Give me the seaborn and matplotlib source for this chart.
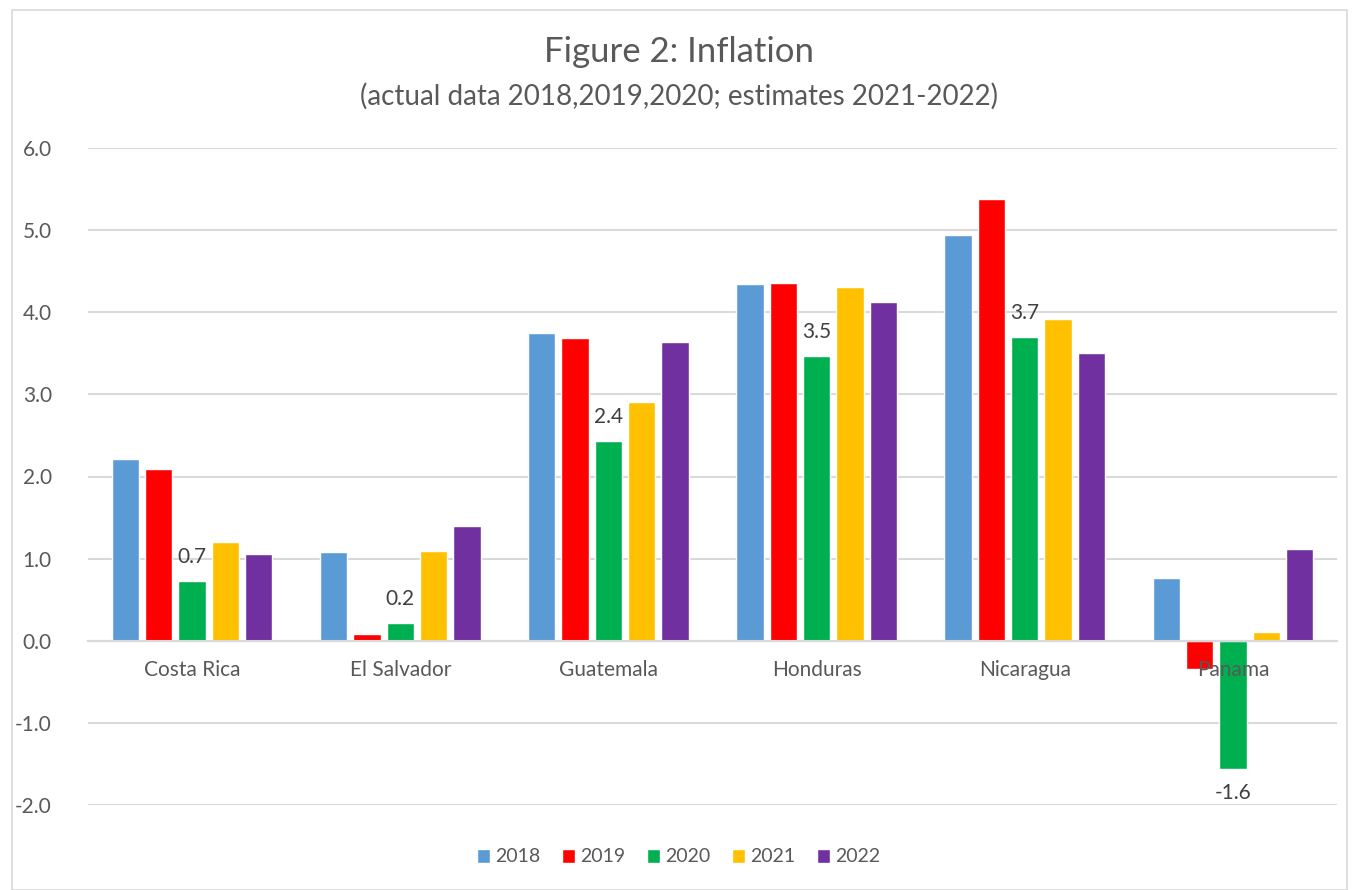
import matplotlib
matplotlib.use("Agg")
import matplotlib.pyplot as plt
import seaborn as sns
import pandas as pd
from matplotlib.patches import Rectangle

countries = ["Costa Rica", "El Salvador", "Guatemala", "Honduras", "Nicaragua", "Panama"]
years = ["2018", "2019", "2020", "2021", "2022"]
v2018 = [2.21, 1.08, 3.75, 4.34, 4.94, 0.77]
v2019 = [2.09, 0.085, 3.69, 4.36, 5.38, -0.35]
v2020 = [0.73, 0.22, 2.43, 3.47, 3.70, -1.56]
v2021 = [1.20, 1.09, 2.91, 4.31, 3.92, 0.11]
v2022 = [1.06, 1.40, 3.64, 4.12, 3.50, 1.12]
colors = ["#5B9BD5", "#FF0000", "#00B050", "#FFC000", "#7030A0"]

series = [v2018, v2019, v2020, v2021, v2022]
rows = []
for y, vals in zip(years, series):
    for c, v in zip(countries, vals):
        rows.append({"country": c, "year": y, "value": v})
df = pd.DataFrame(rows)

sns.set_theme(style="white")
plt.rcParams["font.family"] = ["Lato", "DejaVu Sans"]
txt = "#595959"
fs = 15

fig = plt.figure(figsize=(13.57, 8.9), dpi=100)
ax = fig.add_axes([88/1357, 1 - 805/890, (1337-88)/1357, (805-148)/890])

sns.barplot(data=df, x="country", y="value", hue="year", order=countries,
            hue_order=years, palette=colors, saturation=1, width=0.8, gap=0.18,
            edgecolor="white", linewidth=1, ax=ax, legend=True)

ticks = [-2, -1, 0, 1, 2, 3, 4, 5, 6]
ax.set_ylim(-2, 6)
ax.set_yticks(ticks)
ax.set_yticklabels([f"{t:.1f}" for t in ticks])
ax.yaxis.grid(True, color="#D9D9D9", linewidth=1.5)
ax.set_axisbelow(True)
for s in ["top", "right", "left"]:
    ax.spines[s].set_visible(False)
ax.spines["bottom"].set_position(("data", 0))
ax.spines["bottom"].set_color("#D9D9D9")
ax.spines["bottom"].set_linewidth(1.5)
ax.tick_params(axis="both", length=0, labelsize=fs, colors=txt)
ax.tick_params(axis="y", pad=26)
ax.set_xticklabels([])
ax.set_xlabel("")
ax.set_ylabel("")
ax.set_xlim(-0.5, 5.5)

for i, c in enumerate(countries):
    ax.annotate(c, xy=(i, 0), xytext=(0, -14), textcoords="offset points",
                ha="center", va="top", fontsize=fs, color=txt, zorder=10)

cont2020 = ax.containers[2]
ax.bar_label(cont2020, labels=[f"{v:.1f}" for v in v2020], padding=10,
             fontsize=fs, color="#404040")

h, l = ax.get_legend_handles_labels()
leg = ax.legend(h, l, loc="center", bbox_to_anchor=(0.5, (890-857)/890), bbox_transform=fig.transFigure,
                ncol=5, frameon=False, fontsize=14, handlelength=0.7, handleheight=0.7,
                handletextpad=0.25, columnspacing=1.1)
for t in leg.get_texts():
    t.set_color(txt)

fig.text(0.5, 1 - 52/890, "Figure 2: Inflation", ha="center", va="center", fontsize=25, color=txt)
fig.text(0.5, 1 - 96/890, "(actual data 2018,2019,2020; estimates 2021-2022)", ha="center", va="center",
         fontsize=20, color=txt)

fig.patches.append(Rectangle((12/1357, 0), (1347-12)/1357, 1 - 10/890, transform=fig.transFigure,
                             fill=False, edgecolor="#D9D9D9", linewidth=1.2))

fig.savefig("out.png", dpi=100)
